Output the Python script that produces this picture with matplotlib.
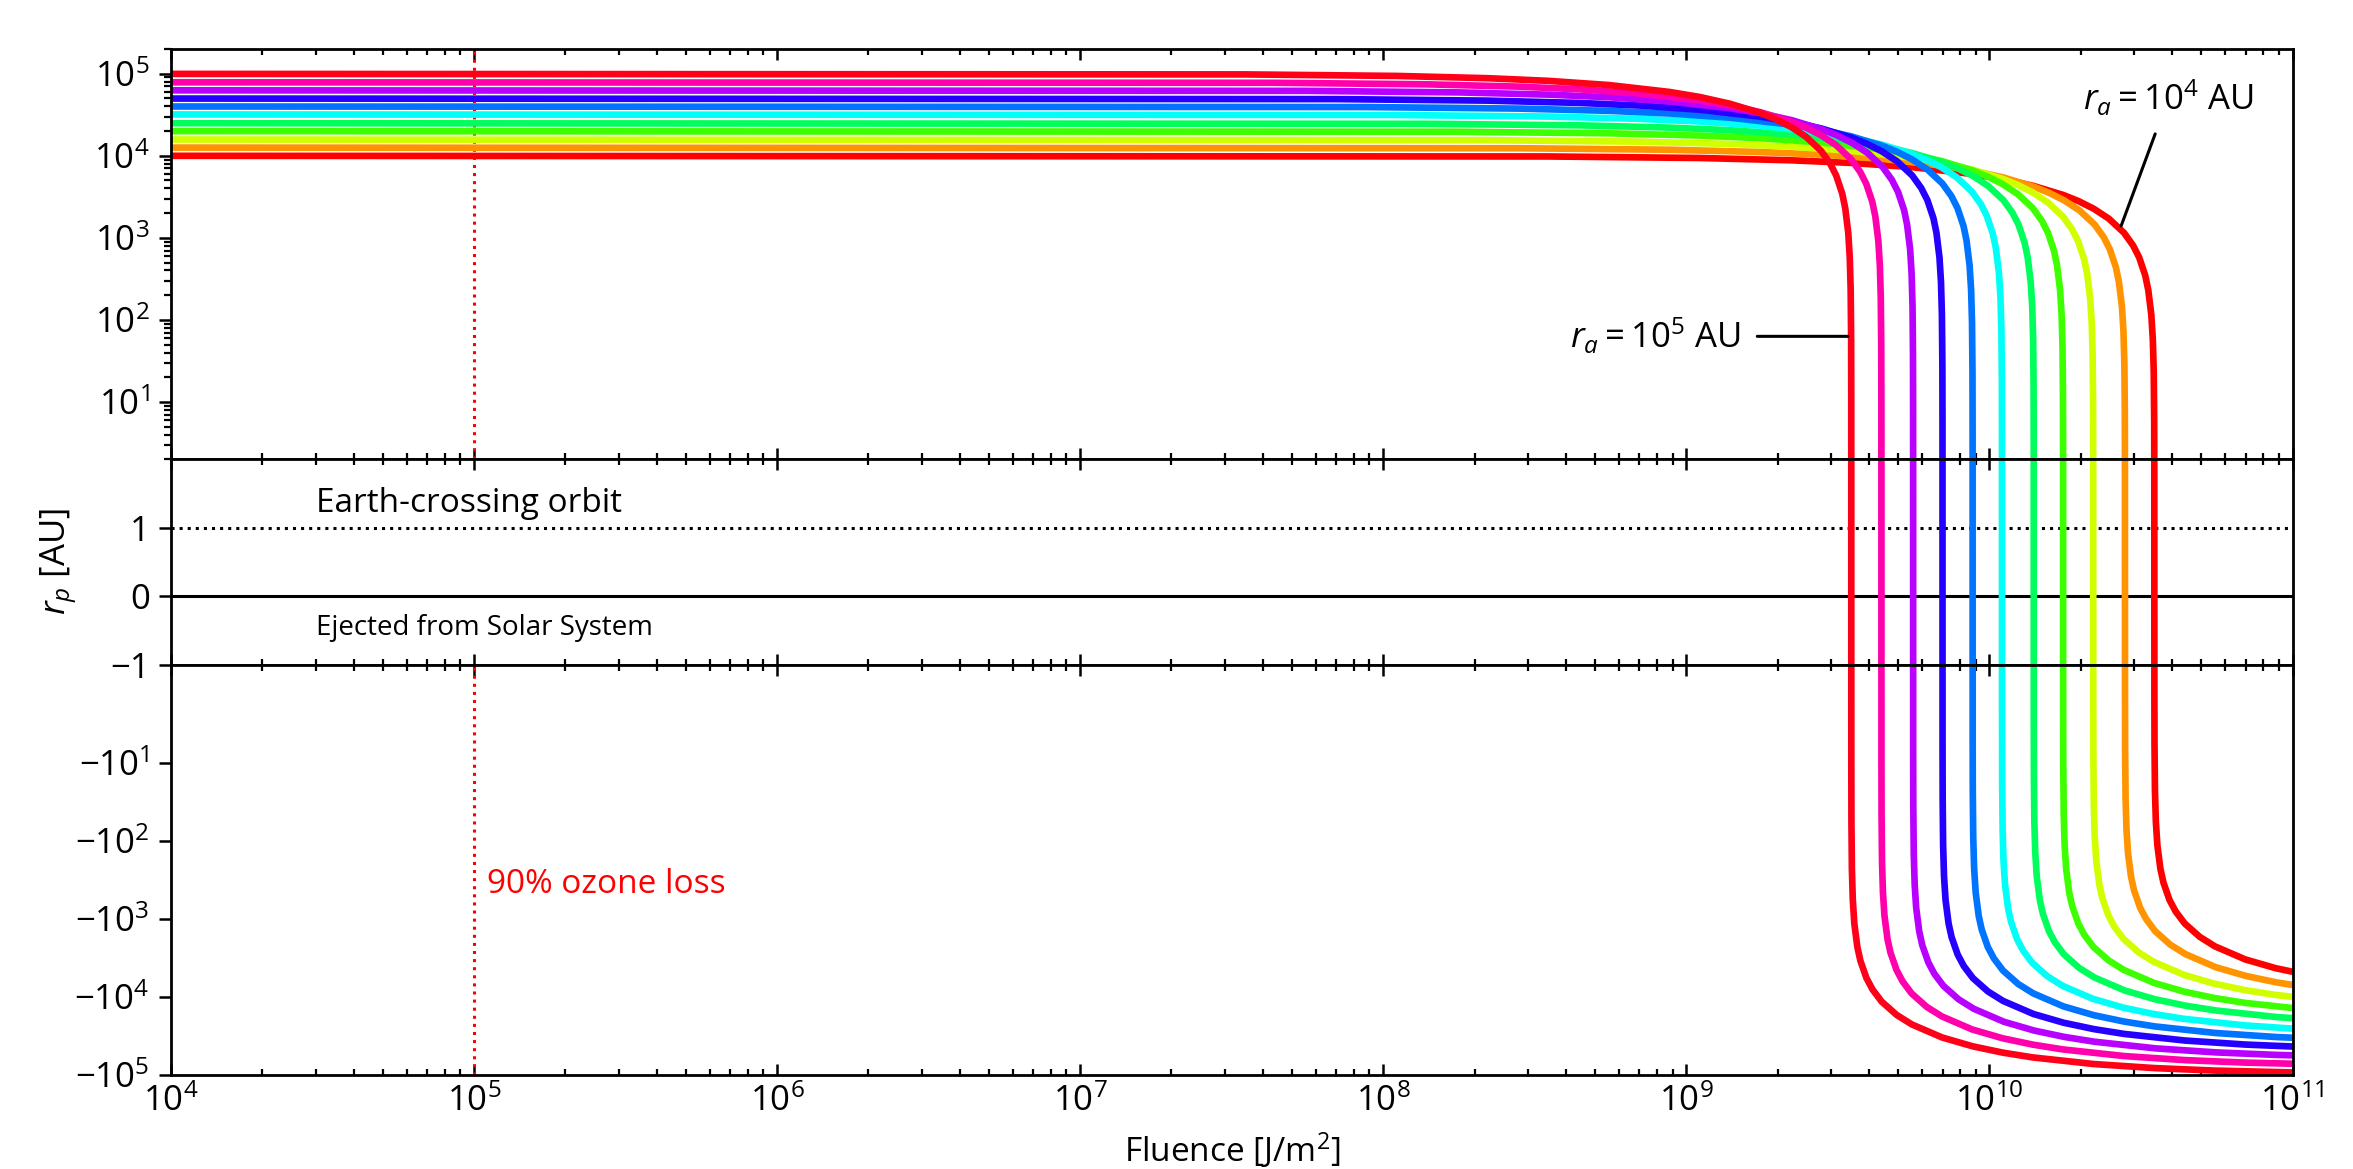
import numpy as np
import matplotlib.pyplot as plt
from matplotlib.ticker import LogLocator, FixedLocator, FuncFormatter, NullLocator

plt.rcParams['font.family'] = ['Open Sans', 'DejaVu Sans']
plt.rcParams['mathtext.fontset'] = 'custom'
plt.rcParams['mathtext.rm'] = 'Open Sans'
plt.rcParams['mathtext.it'] = 'Open Sans:italic'

# aphelion distance of each curve (value at low fluence), AU
ra_values = [1.0e4, 1.26e4, 1.58e4, 2.0e4, 2.5e4, 3.2e4, 4.0e4, 5.0e4, 6.3e4, 7.9e4, 1.0e5]
# fluence where each curve crosses r_p = 0, J/m^2
cross_fluence = [3.5e10, 2.8e10, 2.2e10, 1.75e10, 1.4e10, 1.1e10, 8.8e9, 7.0e9, 5.6e9, 4.4e9, 3.5e9]

# shape shared by all curves:
# log10(F / F_cross) and r_p / r_a
prof_log_offset = [-7, -2, -1.5, -1.2, -1.0, -0.8, -0.6, -0.5, -0.4, -0.3, -0.25, -0.2,
                   -0.15, -0.1, -0.07, -0.05, -0.03, -0.02, -0.01, -0.005, -0.002, -0.0005,
                   -0.0001, -0.000001, 0.0, 0.000001, 0.0001, 0.0005, 0.002, 0.005, 0.01,
                   0.02, 0.03, 0.05, 0.07, 0.1, 0.15, 0.2, 0.3, 0.4, 0.5, 0.6, 0.8, 1.0,
                   1.2, 1.5]
prof_rp_ratio = [1.0, 0.980, 0.939, 0.881, 0.818, 0.727, 0.599, 0.520, 0.430, 0.332, 0.280,
                 0.226, 0.171, 0.115, 0.0805, 0.0576, 0.0347, 0.0230, 0.0115, 0.00575, 0.0023,
                 0.000575, 0.000115, 0.00000115, 0.0, -0.00000115, -0.000115, -0.000575,
                 -0.0023, -0.00575, -0.0115, -0.0230, -0.0345, -0.0575, -0.0805, -0.115,
                 -0.171, -0.226, -0.332, -0.430, -0.519, -0.598, -0.726, -0.818, -0.881,
                 -0.939]

ozone_fluence = 1e5

fig = plt.figure(figsize=(11.765, 5.845), dpi=200)
ax_top = fig.add_axes([0.0727, 0.6071, 0.9016, 0.3510])
ax_mid = fig.add_axes([0.0727, 0.4315, 0.9016, 0.1756], sharex=ax_top)
ax_bot = fig.add_axes([0.0727, 0.0805, 0.9016, 0.3510], sharex=ax_top)

# reference lines
ax_mid.axhline(1, color='k', ls=':', lw=1.1)
ax_mid.axhline(0, color='k', lw=1.1)
ax_top.axvline(ozone_fluence, color='red', ls=':', lw=1.1)
ax_bot.axvline(ozone_fluence, color='red', ls=':', lw=1.1)

colors = plt.cm.hsv(np.linspace(0, 1, len(ra_values)))
u = np.array(prof_log_offset)
ratio = np.array(prof_rp_ratio)
for ra, f0, c in zip(ra_values, cross_fluence, colors):
    fl = f0 * 10 ** u
    rp = ra * ratio
    ax_top.plot(fl[rp > 0], rp[rp > 0], color=c, lw=2.4)
    ax_mid.plot(fl, rp, color=c, lw=2.4)
    ax_bot.plot(fl[rp < 0], -rp[rp < 0], color=c, lw=2.4)

for ax in (ax_top, ax_mid, ax_bot):
    ax.set_xscale('log')
    ax.set_xlim(1e4, 1e11)
    ax.tick_params(axis='x', which='both', direction='in', top=True, bottom=True)
    ax.tick_params(axis='x', which='major', length=4, width=0.9, labelsize=12.5)
    ax.tick_params(axis='x', which='minor', length=2.2, width=0.8)
    ax.tick_params(axis='y', which='both', direction='out', right=False)
    ax.tick_params(axis='y', which='major', length=4.2, width=0.9, labelsize=12.5)
    ax.tick_params(axis='y', which='minor', length=2.4, width=0.8)
    for sp in ax.spines.values():
        sp.set_linewidth(1.0)

ax_top.xaxis.set_major_locator(LogLocator(base=10, numticks=20))
ax_top.xaxis.set_minor_locator(LogLocator(base=10, subs=np.arange(2, 10), numticks=20))
ax_top.tick_params(labelbottom=False)
ax_mid.tick_params(labelbottom=False)

# top: bound orbits
ax_top.set_yscale('log')
ax_top.set_ylim(2, 2e5)
ax_top.yaxis.set_major_locator(LogLocator(base=10, numticks=10))
ax_top.yaxis.set_minor_locator(LogLocator(base=10, subs=np.arange(2, 10), numticks=10))

# middle: linear strip around zero
ax_mid.set_ylim(-1, 2)
ax_mid.set_yticks([-1, 0, 1])
ax_mid.text(3e4, 1.35, 'Earth-crossing orbit', fontsize=12, va='center')
ax_mid.text(3e4, -0.47, 'Ejected from Solar System', fontsize=10, va='center')
ax_mid.set_ylabel('$r_p$ [AU]', fontsize=12.5)
ax_mid.yaxis.set_label_coords(-0.043, 0.5)

# bottom: negative r_p, drawn as |r_p| on an inverted log axis
ax_bot.set_yscale('log')
ax_bot.set_ylim(1e5, 0.557)
ax_bot.yaxis.set_major_locator(FixedLocator([1e1, 1e2, 1e3, 1e4, 1e5]))
ax_bot.yaxis.set_minor_locator(NullLocator())
ax_bot.yaxis.set_major_formatter(
    FuncFormatter(lambda v, p: r'$\mathdefault{-10^{%d}}$' % round(np.log10(v))))
ax_bot.text(1.1e5, 360, '90% ozone loss', color='red', fontsize=12, va='center')
ax_bot.set_xlabel('Fluence [J/m$^2$]', fontsize=12)

ax_top.annotate(r'$r_a = 10^4$ AU', xy=(2.72e10, 1.4e3), xytext=(3.9e10, 5.1e4),
                ha='center', va='center', fontsize=12.5,
                arrowprops=dict(arrowstyle='-', color='k', lw=1.1, shrinkA=4, shrinkB=0))
ax_top.annotate(r'$r_a = 10^5$ AU', xy=(3.41e9, 63), xytext=(7.9e8, 63),
                ha='center', va='center', fontsize=12.5,
                arrowprops=dict(arrowstyle='-', color='k', lw=1.1, shrinkA=4, shrinkB=0))

fig.savefig('out.png', dpi=200)
